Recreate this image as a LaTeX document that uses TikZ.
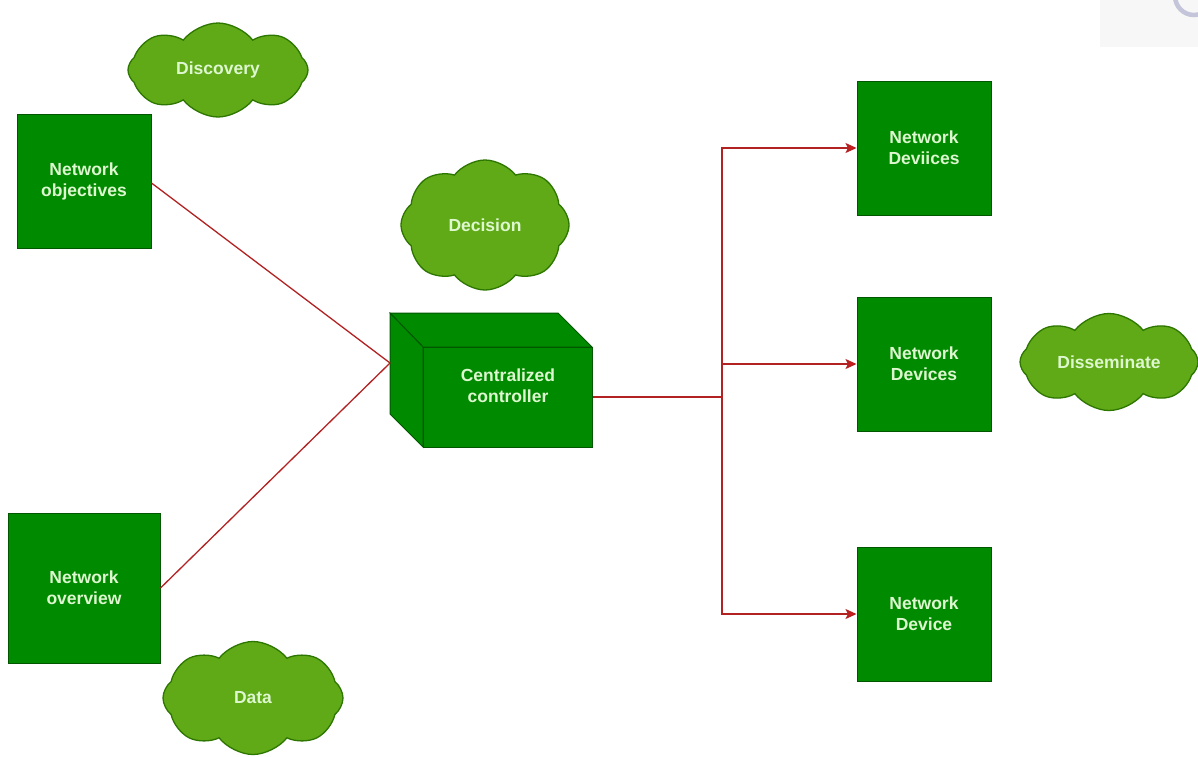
\documentclass[tikz,border=0pt]{standalone}
\usepackage{fontspec}
\setmainfont{Liberation Sans}
\usetikzlibrary{arrows.meta,shapes.symbols}
\definecolor{boxgreen}{HTML}{008A00}
\definecolor{boxedge}{HTML}{005700}
\definecolor{cloudgreen}{HTML}{60A917}
\definecolor{cloudedge}{HTML}{2D7600}
\definecolor{labelgreen}{HTML}{DDF7CF}
\definecolor{linkred}{HTML}{B22222}
\definecolor{tipred}{HTML}{D41A1A}
\definecolor{widgetring}{HTML}{C4C4DA}
\tikzset{
  x=1pt, y=-1pt,
  every node/.style={font=\fontsize{17.5}{21}\selectfont\bfseries, text=labelgreen, align=center},
  greenbox/.style={rectangle, fill=boxgreen, draw=boxedge, line width=1pt, minimum width=134pt, minimum height=134pt, inner sep=0pt},
  puff/.style={cloud, cloud puffs=8, cloud puff arc=105, cloud ignores aspect, fill=cloudgreen, draw=cloudedge, line width=1.3pt, inner sep=0pt},
  cubeface/.style={fill=boxgreen, draw=boxedge, line width=1pt},
  link/.style={draw=linkred, line width=1.3pt},
  arrowlink/.style={link, -{Stealth[length=11pt,width=10pt,inset=2.5pt,fill=tipred]}},
}
\begin{document}
\begin{tikzpicture}
\useasboundingbox (0,0) rectangle (1198,756);
\fill[white] (0,0) rectangle (1198,756);

% search widget corner
\begin{scope}
  \clip (0,0) rectangle (1198,756);
  \fill[black!3] (1100,0) rectangle (1198,47);
  \draw[widgetring, line width=4.5pt] (1194,-4) ++(180:19) arc[start angle=180, end angle=40, radius=19];
\end{scope}

% left boxes
\node[greenbox] (obj) at (84,181) {Network\\objectives};
\node[greenbox, minimum width=152pt, minimum height=150pt] (ovw) at (84,588) {Network\\overview};

% right boxes
\node[greenbox] (dev1) at (924,148) {Network\\Deviices};
\node[greenbox] (dev2) at (924,364) {Network\\Devices};
\node[greenbox] (dev3) at (924,614) {Network\\Device};

% clouds
\node[puff, minimum width=180pt, minimum height=94pt, shape border rotate=22.5] (disc) at (218,70) {Discovery};
\node[puff, minimum width=168pt, minimum height=130pt, shape border rotate=22.5] (deci) at (485,225) {Decision};
\node[puff, minimum width=178pt, minimum height=97pt, shape border rotate=22.5] (diss) at (1109,362) {Disseminate};
\node[puff, minimum width=180pt, minimum height=113pt, shape border rotate=22.5] (data) at (253,698) {Data};

% centralized controller cube
\path[cubeface] (390,313) -- (558,313) -- (592,347) -- (423,347) -- cycle;
\path[cubeface] (390,313) -- (423,347) -- (423,447) -- (390,414) -- cycle;
\node[rectangle, fill=boxgreen, draw=boxedge, line width=1pt, minimum width=169pt, minimum height=100pt, inner sep=0pt] (ctl) at (507.5,397) {};
\node (ctlt) at (508,386) {Centralized\\controller};
\coordinate (ctlw) at (390,363);
\coordinate (split) at (722,397);

% connectors
\draw[link] (obj.east |- 0,183) -- (ctlw);
\draw[link] (ovw.east) -- (ctlw);
\draw[link] (ctl.east) -- (split);
\draw[arrowlink] (split) |- (dev1.west);
\draw[arrowlink] (split) |- (dev2.west);
\draw[arrowlink] (split) |- (dev3.west);
\end{tikzpicture}
\end{document}
